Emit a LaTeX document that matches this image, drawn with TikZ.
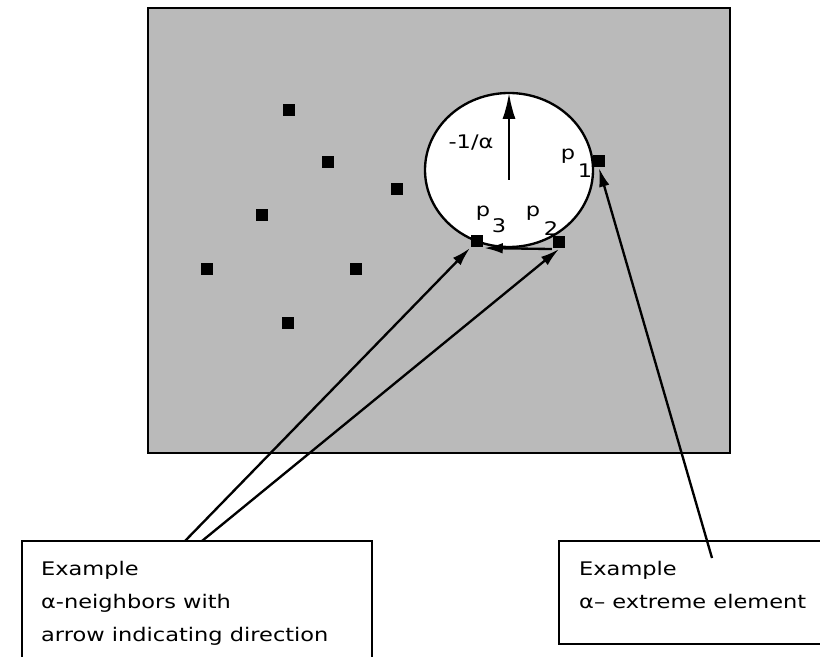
\documentclass[tikz,border=0pt]{standalone}
\usepackage{fontspec}
\newfontfamily\genfont[FakeStretch=1.2]{DejaVu Sans}
\usetikzlibrary{arrows.meta,positioning}
\definecolor{PaperGray}{RGB}{186,186,186}

\tikzset{
  elem/.style={fill=black,inner sep=0pt,minimum size=10pt},
  txt/.style={font=\genfont\fontsize{16}{28.1}\selectfont,inner sep=0pt,align=left},
  lbl/.style={font=\genfont\fontsize{16}{18}\selectfont,inner sep=0pt}
}

\begin{document}
\begin{tikzpicture}[x=0.03cm,y=-0.03cm,>={Latex[length=16pt,width=9pt]},line width=2pt]
      \clip (0,0) rectangle (820,657);
      \fill[white] (0,0) rectangle (820,657);
      % plane with the elements
      \draw[fill=PaperGray] (148,8) rectangle (730,453);
      \draw[fill=white] (509,170) ellipse [x radius=84,y radius=77];
      \foreach \n/\px/\py in {a/289/110,b/328/162,c/397/189,d/262/215,
                              e/207/269,f/356/269,g/288/323}
        \node[elem] (el\n) at (\px,\py) {};
      \node[elem] (p1) at (599,161) {};
      \node[elem] (p3) at (477,241) {};
      \node[elem] (p2) at (559,242) {};
      % radius
      \coordinate (ctr) at (509,180);
      \coordinate (rtop) at (509,93);
      \draw[-{Latex[length=22pt,width=11pt]}] (ctr) -- (rtop);
      \node[lbl] (rad) at (471,143) {-1/α};
      \node[lbl] (p1l) at (568,156) {p};
      \node[lbl] (p1s) at (585,171) {1};
      \node[lbl] (p3l) at (483,213) {p};
      \node[lbl] (p3s) at (499,226) {3};
      \node[lbl] (p2l) at (533,213) {p};
      \node[lbl] (p2s) at (551,229) {2};
      \draw[->] (p2.south west) -- (p3.south east);
      % caption boxes
      \draw[line width=1.6pt] (22,700) -- (22,541) -- (372,541) -- (372,700);
      \draw[line width=1.6pt] (830,541) -- (559,541) -- (559,644) -- (830,644);
      \node[txt,anchor=base west] (capA) at (40,641)
        {Example\\α-neighbors with\\arrow indicating direction};
      \node[txt,anchor=base west] (capB) at (578,608)
        {Example\\α– extreme element};
      \coordinate (nbA) at (185,541);
      \coordinate (nbB) at (202,541);
      \coordinate (exA) at (712,558);
      \draw[->] (nbA) -- (p3.south west);
      \draw[->] (nbB) -- (p2.south);
      \draw[->] (exA) -- (p1.south);
    \end{tikzpicture}
\end{document}
